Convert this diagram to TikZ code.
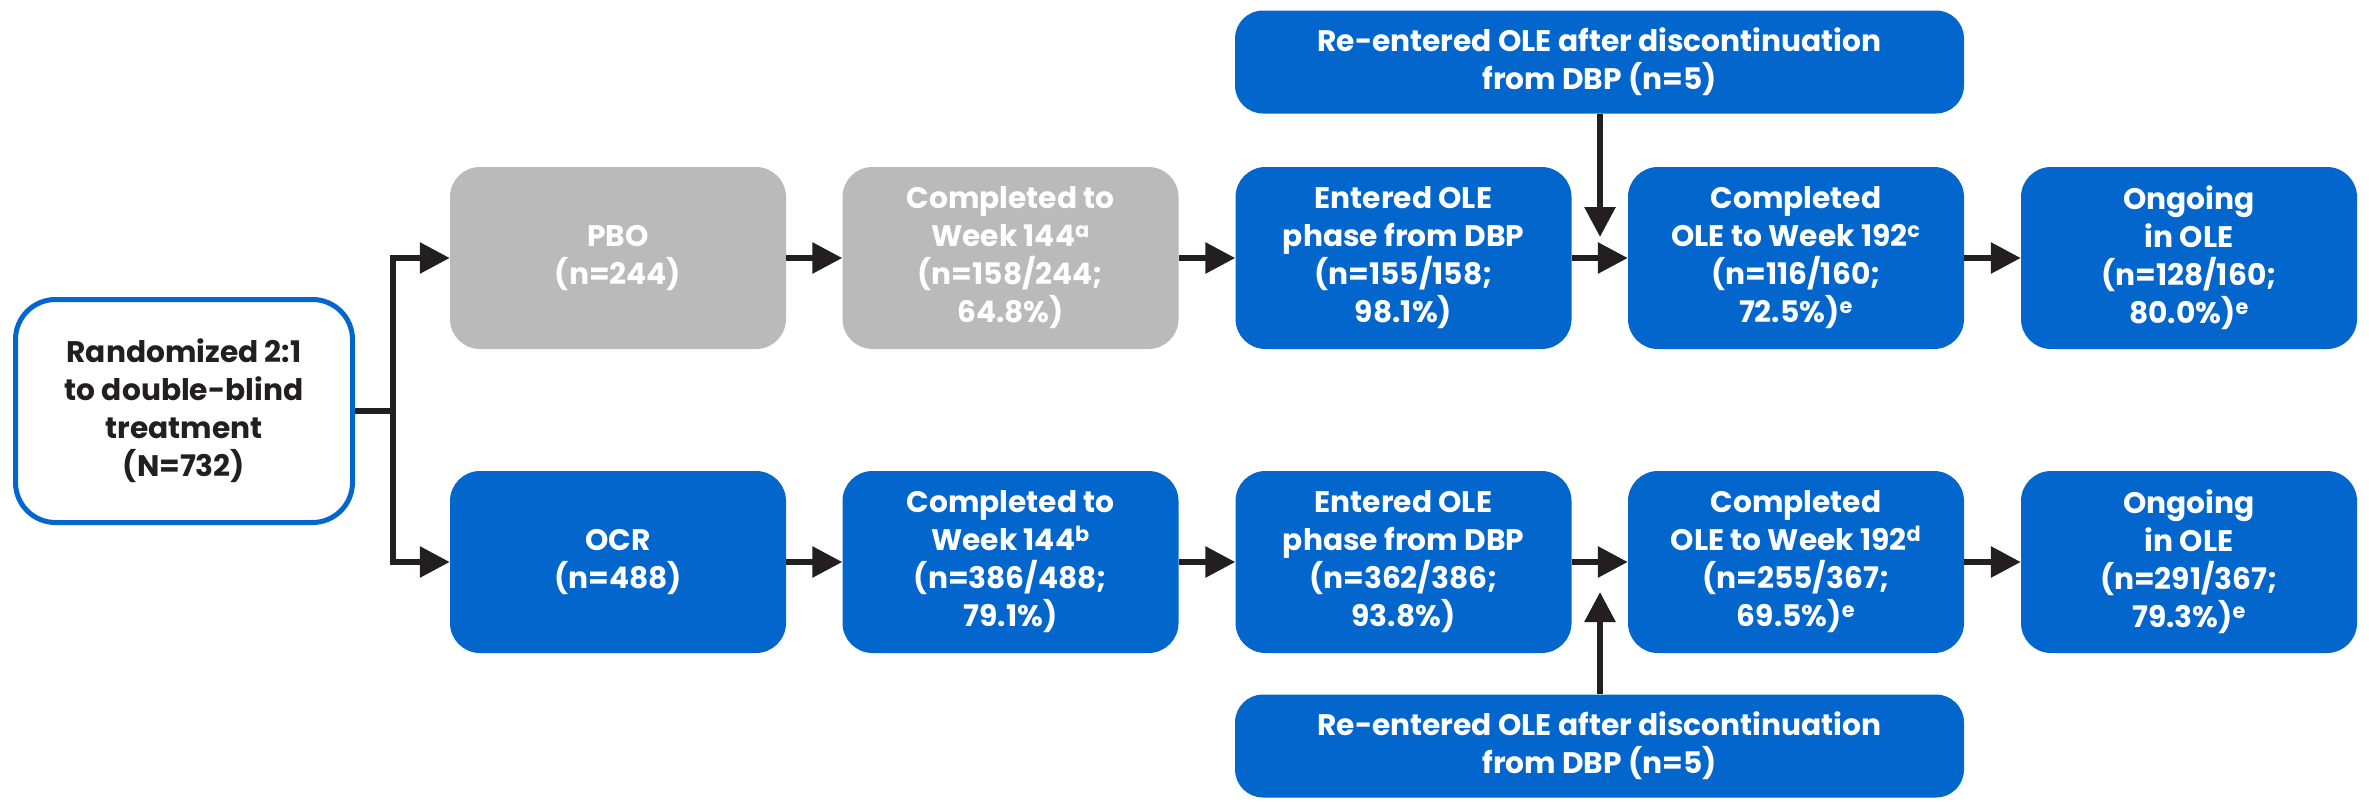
\documentclass[tikz,border=0pt]{standalone}
\usepackage{fontspec}
\setmainfont{Poppins}
\usetikzlibrary{arrows.meta}
\definecolor{boxblue}{HTML}{0366CC}
\definecolor{boxgray}{HTML}{BABABA}
\definecolor{inkdark}{HTML}{231F20}
\tikzset{
  txt/.style={font=\fontsize{29.7}{38}\selectfont\bfseries, align=center, inner sep=0pt},
  bluebox/.style={txt, fill=boxblue, text=white, rounded corners=30pt,
    minimum width=336pt, minimum height=182pt},
  graybox/.style={bluebox, fill=boxgray},
  widebox/.style={txt, fill=boxblue, text=white, rounded corners=28pt,
    minimum width=729pt, minimum height=103pt},
  startbox/.style={txt, fill=white, text=inkdark, draw=boxblue, line width=5pt,
    rounded corners=40pt, minimum width=337pt, minimum height=223pt},
  link/.style={draw=inkdark, line width=6pt},
  arr/.style={link, -{Triangle[length=30pt, width=30pt]}},
}
\begin{document}
\begin{tikzpicture}[x=1pt, y=-1pt]
\useasboundingbox (0,0) rectangle (2369,801);

% start of the trial
\node[startbox] (rand) at (184,411) {Randomized 2:1\\to double-blind\\treatment\\(N=732)};

% placebo arm
\node[graybox] (pbo) at (618,258) {PBO\\(n=244)};
\node[graybox] (pbo2) at (1010.5,258) {Completed to\\Week 144\textsuperscript{a}\\(n=158/244;\\64.8\%)};
\node[bluebox] (pbo3) at (1403.5,258) {Entered OLE\\phase from DBP\\(n=155/158;\\98.1\%)};
\node[bluebox] (pbo4) at (1796,258) {Completed\\OLE to Week 192\textsuperscript{c}\\(n=116/160;\\72.5\%)\textsuperscript{e}};
\node[bluebox] (pbo5) at (2189,258) {Ongoing\\in OLE\\(n=128/160;\\80.0\%)\textsuperscript{e}};

% ocrelizumab arm
\node[bluebox] (ocr) at (618,562) {OCR\\(n=488)};
\node[bluebox] (ocr2) at (1010.5,562) {Completed to\\Week 144\textsuperscript{b}\\(n=386/488;\\79.1\%)};
\node[bluebox] (ocr3) at (1403.5,562) {Entered OLE\\phase from DBP\\(n=362/386;\\93.8\%)};
\node[bluebox] (ocr4) at (1796,562) {Completed\\OLE to Week 192\textsuperscript{d}\\(n=255/367;\\69.5\%)\textsuperscript{e}};
\node[bluebox] (ocr5) at (2189,562) {Ongoing\\in OLE\\(n=291/367;\\79.3\%)\textsuperscript{e}};

% re-entry after discontinuation
\node[widebox] (reA) at (1599.5,62) {Re-entered OLE after discontinuation\\from DBP (n=5)};
\node[widebox] (reB) at (1599.5,746) {Re-entered OLE after discontinuation\\from DBP (n=5)};

% randomization split
\coordinate (split) at (393,411);
\draw[link] (rand.east) -- (split);
\draw[arr] (split) |- (pbo.west);
\draw[arr] (split) |- (ocr.west);

% flow along each arm
\draw[arr] (pbo.east) -- (pbo2.west);
\draw[arr] (pbo2.east) -- (pbo3.west);
\draw[arr] (pbo3.east) -- (pbo4.west);
\draw[arr] (pbo4.east) -- (pbo5.west);
\draw[arr] (ocr.east) -- (ocr2.west);
\draw[arr] (ocr2.east) -- (ocr3.west);
\draw[arr] (ocr3.east) -- (ocr4.west);
\draw[arr] (ocr4.east) -- (ocr5.west);

% re-entries joining the OLE
\coordinate (joinA) at (1600,237);
\coordinate (joinB) at (1600,592);
\draw[arr] (reA.south -| joinA) -- (joinA);
\draw[arr] (reB.north -| joinB) -- (joinB);
\end{tikzpicture}
\end{document}
